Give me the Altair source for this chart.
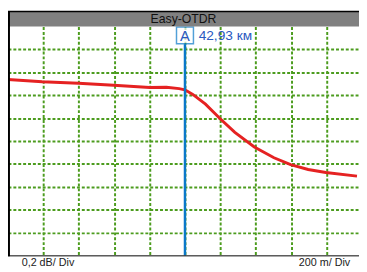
import altair as alt
import pandas as pd

# Trace data (distance in km, relative level in dB)
dist_km = [41.930, 42.123, 42.328, 42.527, 42.731, 42.825, 42.897, 42.930, 42.974,
           43.046, 43.129, 43.212, 43.322, 43.433, 43.527, 43.626, 43.726, 43.902]
level_db = [-0.462, -0.482, -0.496, -0.513, -0.533, -0.530, -0.542, -0.553, -0.593,
            -0.678, -0.806, -0.925, -1.053, -1.147, -1.207, -1.249, -1.275, -1.307]

cursor_km = [42.93]
cursor_label = ["42,93 км"]
x_grid = [42.13, 42.33, 42.53, 42.73, 42.93, 43.13, 43.33, 43.53, 43.73]
y_grid = [-0.2, -0.4, -0.6, -0.8, -1.0, -1.2, -1.4, -1.6, -1.8]
x_domain = [41.93, 43.9134]
y_domain = [-2.0, 0.0]
title_text = "Easy-OTDR"
y_scale_text = "0,2 dB/ Div"
x_scale_text = "200 m/ Div"

W, H = 359, 234
GREEN = "#4c9c1e"
BLUE = "#0a78c8"
LBLUE = "#2a58c0"
FONT = "Liberation Sans"

trace = pd.DataFrame({"d": dist_km, "v": level_db})
cur = pd.DataFrame({"d": cursor_km, "lab": cursor_label})
dummy = pd.DataFrame({"a": [0]})

xs = alt.Scale(domain=x_domain, nice=False, zero=False)
ys = alt.Scale(domain=y_domain, nice=False, zero=False)

grid_axis = dict(grid=True, gridColor=GREEN, gridDash=[3, 2], gridWidth=2,
                 labels=False, ticks=False, domain=False, title=None)

line = alt.Chart(trace).mark_line(color="#e52222", strokeWidth=3).encode(
    x=alt.X("d:Q", scale=xs, axis=alt.Axis(values=x_grid, **grid_axis)),
    y=alt.Y("v:Q", scale=ys, axis=alt.Axis(values=y_grid, **grid_axis)),
)

cursor_rule = alt.Chart(cur).mark_rule(color=BLUE, strokeWidth=2.5).encode(
    x=alt.X("d:Q", scale=xs), y=alt.value(18), y2=alt.value(H)
)
box = alt.Chart(cur).mark_square(size=300, filled=True, fill="white",
                                 stroke=BLUE, strokeWidth=1.5).encode(
    x=alt.X("d:Q", scale=xs), y=alt.value(9)
)
box_text = alt.Chart(cur).mark_text(text="A", fontSize=15, font=FONT, color=LBLUE,
                                    baseline="middle", align="center", dy=1).encode(
    x=alt.X("d:Q", scale=xs), y=alt.value(9)
)
cur_text = alt.Chart(cur).mark_text(fontSize=14, font=FONT, color=LBLUE,
                                    baseline="middle", align="left", dx=14, dy=1).encode(
    x=alt.X("d:Q", scale=xs), y=alt.value(9), text="lab:N"
)

bar = alt.Chart(dummy).mark_rect(color="#808080").encode(
    x=alt.value(0), x2=alt.value(W), y=alt.value(-16), y2=alt.value(0)
)
top_line = alt.Chart(dummy).mark_rule(color="black", strokeWidth=1.5).encode(
    x=alt.value(0), x2=alt.value(W), y=alt.value(-15.5)
)
title = alt.Chart(dummy).mark_text(text=title_text, fontSize=12.5,
                                   font="Liberation Sans Narrow, Liberation Sans",
                                   color="#111111", baseline="middle", align="center").encode(
    x=alt.value(W / 2), y=alt.value(-7.5)
)
left_border = alt.Chart(dummy).mark_rule(color="black", strokeWidth=2).encode(
    x=alt.value(1), y=alt.value(-16), y2=alt.value(H + 1)
)
bottom_border = alt.Chart(dummy).mark_rule(color="black", strokeWidth=1).encode(
    x=alt.value(0), x2=alt.value(W), y=alt.value(H + 0.5)
)
ylab = alt.Chart(dummy).mark_text(text=y_scale_text, fontSize=11, font=FONT,
                                  color="#222222", baseline="alphabetic", align="left").encode(
    x=alt.value(14), y=alt.value(H + 11)
)
xlab = alt.Chart(dummy).mark_text(text=x_scale_text, fontSize=11, font=FONT,
                                  color="#222222", baseline="alphabetic", align="right").encode(
    x=alt.value(350), y=alt.value(H + 11)
)

chart = alt.layer(
    line, cursor_rule, box, box_text, cur_text,
    bar, top_line, title, left_border, bottom_border, ylab, xlab
).properties(
    width=W, height=H,
    padding={"left": 0, "top": 16, "right": 0, "bottom": 14},
    autosize=alt.AutoSizeParams(type="none"),
    background="white",
).configure_view(strokeWidth=0)

chart.save("out.html", embed_options={"renderer": "svg", "actions": False})
